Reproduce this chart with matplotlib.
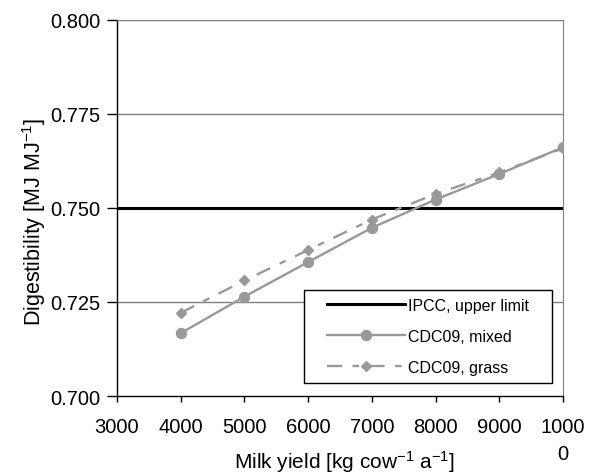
import matplotlib
matplotlib.use("Agg")
import matplotlib.pyplot as plt
from matplotlib.patches import Rectangle

plt.rcParams['font.family'] = ['Liberation Sans', 'DejaVu Sans']
plt.rcParams['mathtext.default'] = 'regular'

# data
milk_yield = [4000, 5000, 6000, 7000, 8000, 9000, 10000]
dig_mixed = [0.7167, 0.7264, 0.7356, 0.7447, 0.7522, 0.7590, 0.7661]
dig_grass = [0.7221, 0.7307, 0.7388, 0.7469, 0.7537, 0.7594, 0.7658]
ipcc_limit = 0.750

x_ticks = [3000, 4000, 5000, 6000, 7000, 8000, 9000, 10000]
x_tick_labels = ['3000', '4000', '5000', '6000', '7000', '8000', '9000', '1000\n0']
y_ticks = [0.700, 0.725, 0.750, 0.775, 0.800]

gray = '#999999'

fig = plt.figure(figsize=(6.01, 4.77), dpi=100)
ax = fig.add_axes([0.1947, 0.1677, 0.742, 0.7889])

# horizontal gridlines
for yv in y_ticks[1:]:
    ax.axhline(yv, color='#808080', lw=1.0, zorder=1)

ax.axhline(ipcc_limit, color='black', lw=2.2, zorder=2, label='IPCC, upper limit')
ax.plot(milk_yield, dig_mixed, color=gray, lw=1.7, marker='o', ms=7.2,
        zorder=3, label='CDC09, mixed')
ax.plot(milk_yield, dig_grass, color=gray, lw=1.7, marker='D', ms=5,
        dashes=(6.4, 4.4, 2.8, 4.4), zorder=3, label='CDC09, grass')

ax.set_xlim(3000, 10000)
ax.set_ylim(0.700, 0.800)
ax.set_xticks(x_ticks)
ax.set_xticklabels(x_tick_labels, fontsize=14.5, linespacing=1.5)
ax.set_yticks(y_ticks)
ax.set_yticklabels(['%.3f' % v for v in y_ticks], fontsize=14.5)
ax.tick_params(axis='x', direction='out', length=4.3, width=1, pad=11)
ax.tick_params(axis='y', direction='out', length=7.2, width=1, pad=4.5)

for side in ['top', 'right']:
    ax.spines[side].set_color('#808080')
for side in ['left', 'bottom']:
    ax.spines[side].set_color('black')
    ax.spines[side].set_linewidth(1.0)

ax.set_xlabel('Milk yield [kg cow$^{-1}$ a$^{-1}$]', fontsize=15)
ax.xaxis.label.set_va('bottom')
ax.xaxis.set_label_coords(0.51, -0.208)
ax.set_ylabel('Digestibility [MJ MJ$^{-1}$]', fontsize=15.5)
ax.yaxis.set_label_coords(-0.155, 0.465)

# legend with a square black frame
frame = Rectangle((0.419, 0.0346), 0.556, 0.2474, transform=ax.transAxes,
                  facecolor='white', edgecolor='black', lw=1.0, zorder=4)
ax.add_patch(frame)
leg = ax.legend(loc='center', bbox_to_anchor=(0.697, 0.158), fontsize=11.5,
                frameon=False, handlelength=4.9, labelspacing=1.0,
                handletextpad=0.2, borderpad=0, borderaxespad=0)
leg.set_zorder(5)

fig.savefig('out.png', dpi=100)
